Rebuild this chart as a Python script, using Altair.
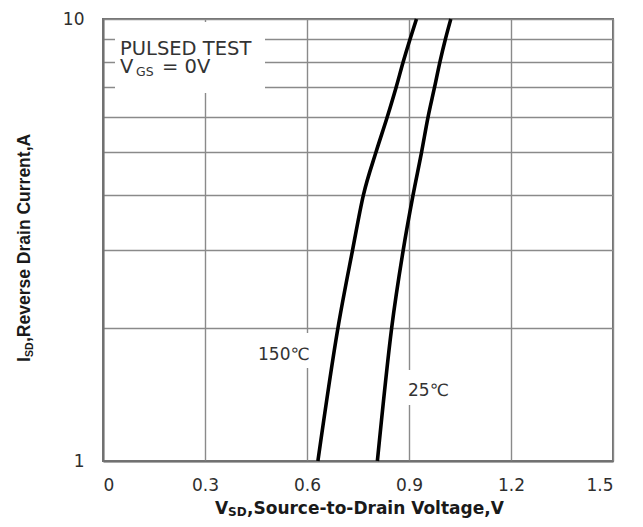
import altair as alt
import pandas as pd

# ---- data ----
i_sd = [1, 2, 3, 4, 5, 6, 7, 8, 9, 10]
v_150c = [0.632, 0.691, 0.734, 0.766, 0.803, 0.836, 0.862, 0.883, 0.903, 0.922]
v_25c = [0.807, 0.849, 0.883, 0.912, 0.937, 0.956, 0.975, 0.991, 1.007, 1.023]
x_ticks = [0, 0.3, 0.6, 0.9, 1.2, 1.5]
y_ticks = [1, 2, 3, 4, 5, 6, 7, 8, 9, 10]

df = pd.DataFrame(
    {
        "v": v_150c + v_25c,
        "i": i_sd + i_sd,
        "series": ["150C"] * len(i_sd) + ["25C"] * len(i_sd),
    }
)

one = alt.Data(values=[{}])

lines = (
    alt.Chart(df)
    .mark_line(color="black", strokeWidth=3.6, interpolate="monotone")
    .encode(
        x=alt.X(
            "v:Q",
            scale=alt.Scale(domain=[0, 1.5], nice=False, zero=False),
            axis=alt.Axis(values=x_ticks, format="~g", title=None, labelPadding=16),
        ),
        y=alt.Y(
            "i:Q",
            scale=alt.Scale(type="log", domain=[1, 10], nice=False),
            axis=alt.Axis(
                values=y_ticks,
                format="~g",
                labelExpr="datum.value == 1 || datum.value == 10 ? datum.label : ''",
                title=None,
                labelPadding=19,
            ),
        ),
        detail="series:N",
        order="i:Q",
    )
)


def box(x1, x2, y1, y2):
    return alt.Chart(one).mark_rect(color="white").encode(
        x=alt.value(x1), x2=alt.value(x2), y=alt.value(y1), y2=alt.value(y2)
    )


def txt(s, x, y, size, font="DejaVu Sans", weight="normal", color="#333333", angle=0):
    kw = dict(
        align="left",
        baseline="alphabetic",
        font=font,
        fontSize=size,
        fontWeight=weight,
        color=color,
    )
    if angle:
        kw["angle"] = angle
    return alt.Chart(one).mark_text(**kw).encode(
        x=alt.value(x), y=alt.value(y), text=alt.value(s)
    )


boxes = [
    box(12, 162, 3, 74),
    box(152, 211, 314, 349),
    box(301, 349, 351, 386),
]

texts = [
    txt("PULSED TEST", 17, 36, 19.5),
    txt("V", 17, 54, 19.5),
    txt("GS", 33, 57, 12.5),
    txt("= 0V", 59, 54, 19.5),
    txt("150\u2103", 155, 341, 17),
    txt("25\u2103", 305, 377, 17),
    # x-axis title
    txt("V", 112, 495, 17, weight="bold", color="#1a1a1a"),
    txt("SD", 125, 497, 12, weight="bold", color="#1a1a1a"),
    txt(",Source-to-Drain Voltage,V", 144, 495, 17, weight="bold", color="#1a1a1a"),
    # y-axis title (rotated)
    txt("I", -73, 343, 17.5, font="Liberation Sans", weight="bold", color="#1a1a1a", angle=270),
    txt("SD", -70, 338, 10.5, font="Liberation Sans", weight="bold", color="#1a1a1a", angle=270),
    txt(",Reverse Drain Current,A", -73, 323, 17.5, font="Liberation Sans", weight="bold", color="#1a1a1a", angle=270),
]

chart = (
    alt.layer(*boxes, lines, *texts)
    .properties(
        width=510,
        height=442,
        autosize=alt.AutoSizeParams(type="none"),
        padding={"left": 95, "top": 11, "right": 22, "bottom": 58},
        background="white",
    )
    .configure_view(stroke="#707070", strokeWidth=2)
    .configure_axis(
        grid=True,
        gridColor="#8a8a8a",
        gridWidth=1.4,
        domainColor="#707070",
        domainWidth=2,
        ticks=False,
        tickSize=0,
        labelFont="DejaVu Sans",
        labelFontSize=17,
        labelColor="#2e2e2e",
    )
)

chart.save("out.html", embed_options={"renderer": "svg", "actions": False})
